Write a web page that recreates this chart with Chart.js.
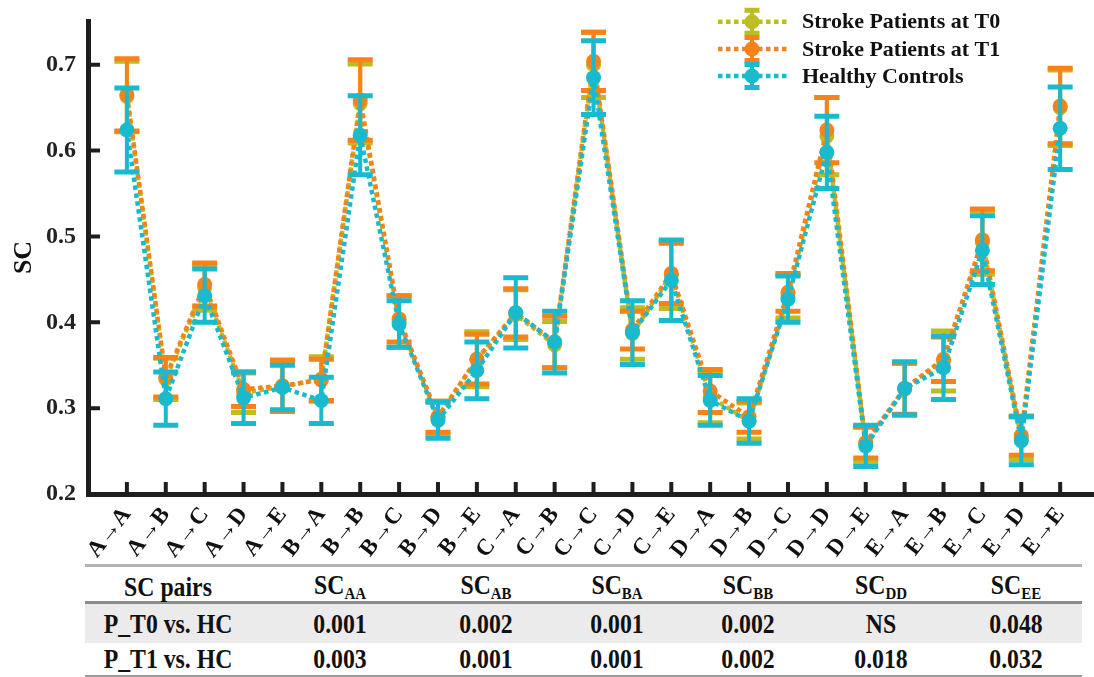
<!DOCTYPE html>
<html>
<head>
<meta charset="utf-8">
<script src="https://cdn.jsdelivr.net/npm/chart.js@4.4.1/dist/chart.umd.min.js"></script>
<style>
  html, body { margin: 0; padding: 0; background: #fff; }
  #wrap { position: relative; width: 1094px; height: 677px; overflow: hidden;
          font-family: "Liberation Serif", "Times New Roman", serif; font-weight: bold; color: #111; }
  #chart { position: absolute; left: 0; top: 0; }
  .rule { position: absolute; left: 85px; width: 997px; }
  .band { position: absolute; left: 85px; width: 997px; background: #ebebeb; }
  .cell { position: absolute; transform: translate(-50%, -50%) scaleX(0.88); white-space: nowrap; font-size: 27px; line-height: 1; }
  .cell sub { font-size: 17px; vertical-align: -5px; }
</style>
</head>
<body>
<div id="wrap">
  <canvas id="chart" width="1094" height="562"></canvas>
  <div id="table"></div>
</div>
<script>
// Connection pairs on the x axis
const categories = ['A→A','A→B','A→C','A→D','A→E','B→A','B→B','B→C','B→D','B→E',
                    'C→A','C→B','C→C','C→D','C→E','D→A','D→B','D→C','D→D','D→E',
                    'E→A','E→B','E→C','E→D','E→E'];

// Stroke patients at T0: mean SC and error
const t0Mean = [0.663,0.334,0.440,0.318,0.325,0.334,0.655,0.401,0.289,0.357,
                0.409,0.374,0.700,0.387,0.455,0.313,0.285,0.430,0.617,0.258,
                0.322,0.355,0.493,0.265,0.650];
const t0Err  = [0.041,0.024,0.026,0.023,0.029,0.026,0.046,0.030,0.019,0.032,
                0.029,0.027,0.038,0.030,0.039,0.030,0.021,0.025,0.045,0.020,
                0.030,0.035,0.037,0.025,0.044];

// Stroke patients at T1
const t1Mean = [0.665,0.336,0.444,0.322,0.326,0.333,0.659,0.404,0.290,0.357,
                0.411,0.377,0.704,0.391,0.457,0.320,0.290,0.435,0.624,0.260,
                0.323,0.357,0.496,0.268,0.652];
const t1Err  = [0.042,0.023,0.025,0.020,0.030,0.024,0.047,0.027,0.018,0.029,
                0.028,0.030,0.034,0.022,0.035,0.025,0.018,0.022,0.038,0.018,
                0.030,0.026,0.036,0.023,0.044];

// Healthy controls
const hcMean = [0.624,0.311,0.431,0.312,0.324,0.309,0.618,0.398,0.286,0.344,
                0.411,0.377,0.685,0.388,0.449,0.309,0.285,0.427,0.598,0.256,
                0.323,0.347,0.484,0.262,0.626];
const hcErr  = [0.049,0.031,0.031,0.030,0.026,0.027,0.046,0.027,0.021,0.033,
                0.041,0.036,0.043,0.037,0.047,0.029,0.026,0.027,0.042,0.024,
                0.031,0.037,0.040,0.028,0.048];

const yTicks = [0.2, 0.3, 0.4, 0.5, 0.6, 0.7];

// Statistics table
const tableHeadSubs = ['AA','AB','BA','BB','DD','EE'];
const rowLabels = ['P_T0 vs. HC', 'P_T1 vs. HC'];
const pT0 = ['0.001','0.002','0.001','0.002','NS','0.048'];
const pT1 = ['0.003','0.001','0.001','0.002','0.018','0.032'];

const FONT = '"Liberation Serif", "Times New Roman", serif';
const INK = '#1e1e1e';
const DASH = [4.5, 3.5];

const series = [
  { label: 'Stroke Patients at T0', mean: t0Mean, err: t0Err, color: '#bcbd22', order: 3 },
  { label: 'Stroke Patients at T1', mean: t1Mean, err: t1Err, color: '#f7821a', order: 2 },
  { label: 'Healthy Controls',      mean: hcMean, err: hcErr, color: '#19bacd', order: 1 }
];

function drawErrorBar(ctx, x, yTop, yBot, color, capHalf) {
  ctx.save();
  ctx.strokeStyle = color;
  ctx.lineCap = 'butt';
  ctx.setLineDash([]);
  ctx.lineWidth = 4;
  ctx.beginPath(); ctx.moveTo(x, yTop); ctx.lineTo(x, yBot); ctx.stroke();
  ctx.lineWidth = 5;
  ctx.beginPath();
  ctx.moveTo(x - capHalf, yTop); ctx.lineTo(x + capHalf, yTop);
  ctx.moveTo(x - capHalf, yBot); ctx.lineTo(x + capHalf, yBot);
  ctx.stroke();
  ctx.restore();
}

// Error bars are drawn under each series' own line and markers
const errorBars = {
  id: 'errorBars',
  beforeDatasetDraw(chart, args) {
    const ds = chart.data.datasets[args.index];
    const xs = chart.scales.x, ys = chart.scales.y;
    ds.data.forEach((p, i) => {
      const px = xs.getPixelForValue(p.x);
      drawErrorBar(chart.ctx, px,
        ys.getPixelForValue(p.y + ds.errors[i]),
        ys.getPixelForValue(p.y - ds.errors[i]),
        ds.borderColor, 12.5);
    });
  }
};

// Inward tick marks on both axes plus the legend box
const axisDecor = {
  id: 'axisDecor',
  afterDraw(chart) {
    const ctx = chart.ctx, area = chart.chartArea;
    const xs = chart.scales.x, ys = chart.scales.y;
    ctx.save();
    ctx.strokeStyle = INK;
    ctx.lineWidth = 4;
    ctx.beginPath();
    yTicks.forEach(v => {
      const py = ys.getPixelForValue(v);
      ctx.moveTo(area.left, py); ctx.lineTo(area.left + 12, py);
    });
    categories.forEach((c, i) => {
      const px = xs.getPixelForValue(i + 1);
      ctx.moveTo(px, area.bottom); ctx.lineTo(px, area.bottom - 12);
    });
    ctx.stroke();

    // legend
    const rows = [21.7, 49, 76];
    series.forEach((s, k) => {
      const y = rows[k];
      ctx.save();
      ctx.strokeStyle = s.color;
      ctx.lineWidth = 4.5;
      ctx.setLineDash(DASH);
      ctx.beginPath(); ctx.moveTo(718, y); ctx.lineTo(790, y); ctx.stroke();
      ctx.restore();
      drawErrorBar(ctx, 752, y - 11.5, y + 11.5, s.color, 7.5);
      ctx.fillStyle = s.color;
      ctx.beginPath(); ctx.arc(752, y, 7.5, 0, Math.PI * 2); ctx.fill();
      ctx.fillStyle = '#111';
      ctx.font = 'bold 22px ' + FONT;
      ctx.textBaseline = 'middle';
      ctx.textAlign = 'left';
      ctx.fillText(s.label, 802, y + 1);
    });
    ctx.restore();
  }
};

Chart.defaults.font.family = FONT;

new Chart(document.getElementById('chart'), {
  type: 'line',
  data: {
    datasets: series.map(s => ({
      label: s.label,
      data: s.mean.map((v, i) => ({ x: i + 1, y: v })),
      errors: s.err,
      borderColor: s.color,
      backgroundColor: s.color,
      borderWidth: 4.5,
      borderDash: DASH,
      borderCapStyle: 'butt',
      pointRadius: 7.5,
      pointBorderWidth: 0,
      pointBackgroundColor: s.color,
      tension: 0,
      clip: false,
      order: s.order
    }))
  },
  options: {
    responsive: false,
    animation: false,
    devicePixelRatio: 1,
    layout: { autoPadding: false, padding: { top: 21, right: 0, bottom: 0, left: 0 } },
    plugins: { legend: { display: false }, tooltip: { enabled: false } },
    scales: {
      x: {
        type: 'linear',
        min: 0,
        max: 25.87,
        afterFit: s => { s.height = 68; s.paddingLeft = 0; s.paddingRight = 0; },
        afterBuildTicks: s => { s.ticks = categories.map((c, i) => ({ value: i + 1 })); },
        grid: { drawOnChartArea: false, drawTicks: false },
        border: { display: true, color: INK, width: 5 },
        ticks: {
          autoSkip: false,
          maxRotation: 52,
          minRotation: 52,
          padding: 8,
          color: '#111',
          font: { size: 23, weight: 'bold' },
          callback: v => categories[Math.round(v) - 1]
        }
      },
      y: {
        min: 0.2,
        max: 0.751,
        afterFit: s => { s.width = 88; s.paddingTop = 0; s.paddingBottom = 0; },
        afterBuildTicks: s => { s.ticks = yTicks.map(v => ({ value: v })); },
        grid: { drawOnChartArea: false, drawTicks: false },
        border: { display: true, color: INK, width: 5 },
        ticks: {
          padding: 12,
          color: '#222',
          font: { size: 24, weight: 'bold' },
          callback: v => v.toFixed(1)
        },
        title: {
          display: true,
          text: 'SC',
          color: '#111',
          font: { size: 26, weight: 'bold' },
          padding: { top: 9, bottom: 0 }
        }
      }
    }
  },
  plugins: [errorBars, axisDecor]
});

// p-value table under the chart
(function buildTable() {
  const host = document.getElementById('table');
  const colX = [168, 340, 486, 617, 748, 881, 1016];
  const rowY = [587, 624, 659];
  const parts = [];
  parts.push('<div class="band" style="top:603px;height:40px"></div>');
  parts.push('<div class="rule" style="top:564px;height:3px;background:#b3b3b3"></div>');
  parts.push('<div class="rule" style="top:601px;height:3px;background:#8c8c8c"></div>');
  parts.push('<div class="rule" style="top:675px;height:2px;background:#9a9a9a"></div>');
  const cell = (x, y, html) => '<div class="cell" style="left:' + x + 'px;top:' + y + 'px">' + html + '</div>';
  parts.push(cell(colX[0], rowY[0], 'SC pairs'));
  tableHeadSubs.forEach((sub, i) => parts.push(cell(colX[i + 1], rowY[0], 'SC<sub>' + sub + '</sub>')));
  [pT0, pT1].forEach((vals, r) => {
    parts.push(cell(colX[0], rowY[r + 1], rowLabels[r]));
    vals.forEach((v, i) => parts.push(cell(colX[i + 1], rowY[r + 1], v)));
  });
  host.innerHTML = parts.join('');
})();
</script>
</body>
</html>
